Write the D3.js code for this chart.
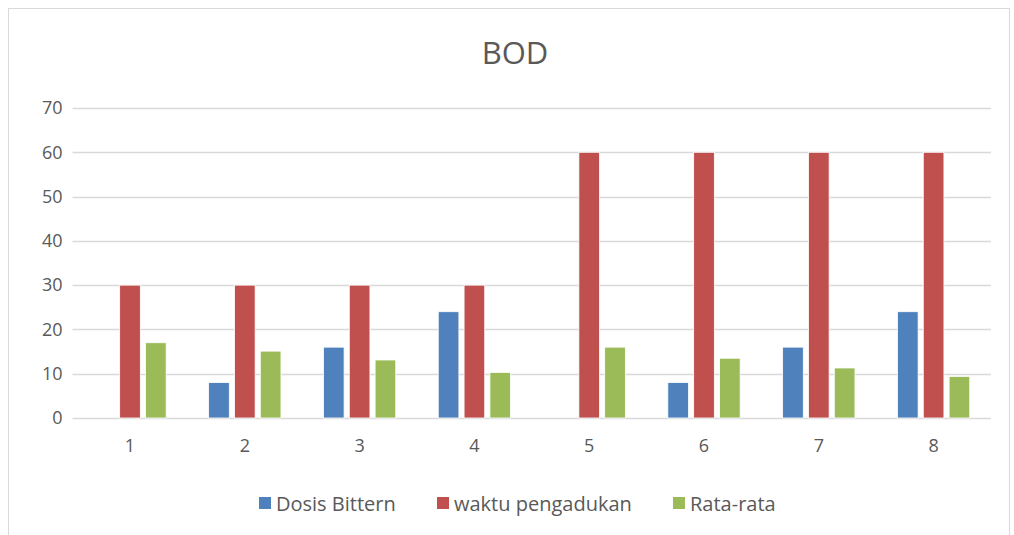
<!DOCTYPE html>
<html>
<head>
<meta charset="utf-8">
<script src="https://cdn.jsdelivr.net/npm/d3@7"></script>
<style>
body{margin:0;background:#fff;}
text{font-family:"Open Sans","Liberation Sans",sans-serif;fill:#595959;}
</style>
</head>
<body>
<script>
var categories = ["1","2","3","4","5","6","7","8"];
var seriesNames = ["Dosis Bittern","waktu pengadukan","Rata-rata"];
var dosisBittern = [0,8,16,24,0,8,16,24];
var waktuPengadukan = [30,30,30,30,60,60,60,60];
var rataRata = [17,15.1,13.1,10.3,16,13.5,11.3,9.4];
var yTicks = [0,10,20,30,40,50,60,70];
var colors = ["#4F81BD","#C0504D","#9BBB59"];

var width = 1014, height = 535;
var margin = {left:72.6,right:23,top:108,bottom:117};

var svg = d3.select("body").append("svg").attr("width",width).attr("height",height);

// chart frame
svg.append("rect").attr("x",8.5).attr("y",8.5).attr("width",1001).attr("height",540)
	.attr("fill","none").attr("stroke","#d9d9d9");

var x0 = d3.scaleBand().domain(categories)
	.range([margin.left, width-margin.right]).paddingInner(0.37).paddingOuter(0.185);
var x1 = d3.scaleBand().domain(seriesNames).range([0,x0.bandwidth()]).paddingInner(0.2);
var y = d3.scaleLinear().domain([0,70]).range([height-margin.bottom, margin.top]);

// gridlines
svg.append("g").selectAll("line").data(yTicks).enter().append("line")
	.attr("x1",margin.left).attr("x2",width-margin.right)
	.attr("y1",function(d){ return Math.round(y(d))+0.5; })
	.attr("y2",function(d){ return Math.round(y(d))+0.5; })
	.attr("stroke","#d9d9d9").attr("stroke-width",1.3);

// y axis labels
var yAxis = svg.append("g").attr("transform","translate("+(margin.left-10)+",0)")
	.call(d3.axisLeft(y).tickValues(yTicks).tickSize(0).tickPadding(0));
yAxis.select(".domain").remove();
yAxis.selectAll("text").style("font-size","18px").attr("fill","#595959");

// x axis labels
var xAxis = svg.append("g").attr("transform","translate(0,"+(height-margin.bottom+21)+")")
	.call(d3.axisBottom(x0).tickSize(0).tickPadding(0));
xAxis.select(".domain").remove();
xAxis.selectAll("text").style("font-size","18px").attr("fill","#595959");

var table = categories.map(function(c,i){
	return {cat:c, values:[dosisBittern[i], waktuPengadukan[i], rataRata[i]]};
});

var groups = svg.append("g").selectAll("g").data(table).enter().append("g")
	.attr("transform",function(d){ return "translate("+x0(d.cat)+",0)"; });

groups.selectAll("rect")
	.data(function(d){ return d.values.map(function(v,j){ return {name:seriesNames[j], v:v, j:j}; }); })
	.enter().append("rect")
	.filter(function(d){ return d.v>0; })
		.attr("x",function(d){ return x1(d.name); })
		.attr("y",function(d){ return y(d.v); })
		.attr("width",x1.bandwidth())
		.attr("height",function(d){ return y(0)-y(d.v); })
		.attr("fill",function(d){ return colors[d.j]; })
		.attr("stroke","#fff").attr("stroke-width",0.8);

// title
svg.append("text").attr("x",515).attr("y",64).attr("text-anchor","middle")
	.style("font-size","31px").text("BOD");

// legend
var legendX = [259,437,673];
var legend = svg.append("g").selectAll("g").data(seriesNames).enter().append("g")
	.attr("transform",function(d,i){ return "translate("+legendX[i]+",497)"; });
legend.append("rect").attr("width",12).attr("height",12)
	.attr("fill",function(d,i){ return colors[i]; });
legend.append("text").attr("x",17).attr("y",6).attr("dominant-baseline","central")
	.style("font-size","20px").text(function(d){ return d; });
</script>
</body>
</html>
